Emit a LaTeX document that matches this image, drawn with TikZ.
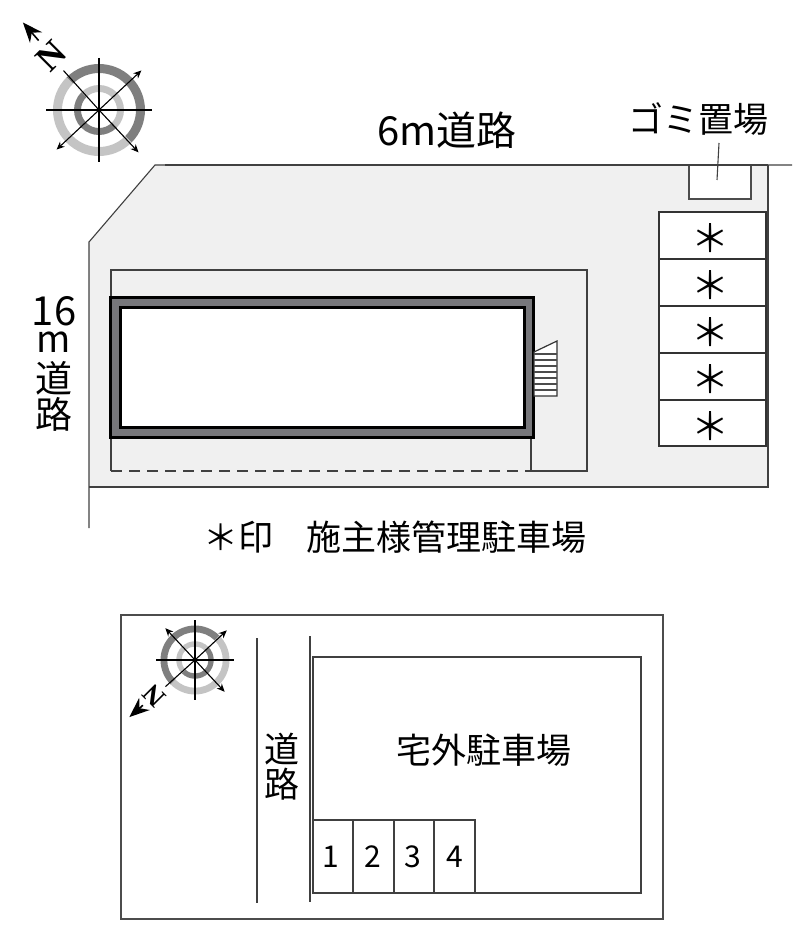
\documentclass[tikz,border=0pt]{standalone}
\usepackage{fontspec}
\setmainfont{Noto Sans CJK JP}
\newfontfamily\northfont{Liberation Serif}
\usetikzlibrary{arrows.meta}
\definecolor{sitegray}{HTML}{F0F0F0}
\definecolor{ringdark}{HTML}{7F7F7F}
\definecolor{ringlight}{HTML}{C4C4C4}
\definecolor{wallgray}{HTML}{77777B}
\tikzset{
  big/.style={font=\fontsize{35}{35}\selectfont,inner sep=0pt},
  num/.style={font=\fontsize{30}{30}\selectfont,inner sep=0pt},
  thinline/.style={draw=black!75,line width=1.1pt},
  boxline/.style={draw=black!70,line width=1.4pt},
  compass/.pic={
    \fill[ringdark] (45:46) arc (45:-135:46) -- (-135:37) arc (-135:45:37) -- cycle;
    \fill[ringlight] (-135:46) arc (-135:-315:46) -- (-315:37) arc (-315:-135:37) -- cycle;
    \fill[ringlight] (45:25) arc (45:-135:25) -- (-135:18) arc (-135:45:18) -- cycle;
    \fill[ringdark] (-135:25) arc (-135:-315:25) -- (-315:18) arc (-315:-135:18) -- cycle;
    \draw[line width=1.1pt] (-53,0) -- (53,0);
    \draw[line width=1.1pt] (0,-52) -- (0,52);
    \draw[line width=1.1pt,-{Stealth[length=8pt,width=7pt]}] (0,0) -- (-43:58);
    \draw[line width=1.1pt,-{Stealth[length=8pt,width=7pt]}] (0,0) -- (-223:58);
    \draw[line width=1.1pt,-{Stealth[length=8pt,width=7pt]}] (0,0) -- (47:58);
    \draw[line width=1.1pt] (0,0) -- (-132:53);
    \fill (0,0) circle (2.5);
    \node[transform shape,rotate=45,font=\northfont\bfseries\fontsize{36}{36}\selectfont,inner sep=0pt] (north) at (-131:72) {N};
    \draw[line width=1.6pt,-{Stealth[length=20pt,width=16pt]}] (-131:92) -- (-131:116);
  }
}
\begin{document}
\begin{tikzpicture}[x=1pt,y=-1pt]
\useasboundingbox (0,0) rectangle (800,941);
% site
\fill[sitegray] (155,165) -- (768,165) -- (768,487) -- (89,487) -- (89,242) -- cycle;
\draw[thinline] (89,528) -- (89,242) -- (155,165) -- (792,165);
\draw[thinline] (89,487) -- (768,487) -- (768,165);
% building
\draw[thinline] (111,471) -- (111,270) -- (587,270) -- (587,471) -- (531,471) -- (531,437);
\draw[thinline,dash pattern=on 11pt off 7pt] (111,471) -- (531,471);
\filldraw[fill=wallgray,draw=black,line width=3pt] (110,297) rectangle (533,437);
\filldraw[fill=white,draw=black,line width=3pt] (120,307) rectangle (524,427);
% stairs
\filldraw[fill=white,draw=black!80,line width=1.2pt] (534,352) -- (557,341) -- (557,396) -- (534,396) -- cycle;
\foreach \y in {354,360,366,372,378,384,390}
  \draw[black!70,line width=1.4pt] (534,\y) -- (557,\y);
% garbage
\filldraw[fill=white,boxline] (689,165) rectangle (751,199);
\draw[thinline] (165,165) -- (768,165);
\node[big] (garbage) at (698,119) {ゴミ置場};
\coordinate (leadtop) at (719,143);
\coordinate (leadend) at (717,180);
\draw[thinline] (leadtop) -- (leadend);
% parking
\foreach \t/\b [count=\i] in {212/259,259/306,306/353,353/400,400/446}{
  \filldraw[fill=white,draw=black!80,line width=1.1pt] (659,\t) rectangle (766,\b);
  \node[font=\fontsize{38}{38}\selectfont,inner sep=0pt] (mark\i) at (710,{(\t+\b)/2+3}) {＊};
}
% labels
\node[inner sep=0pt,font=\fontsize{40}{40}\selectfont] (road6) at (447,130) {6m道路};
\node[inner sep=0pt,align=center,font=\fontsize{37}{36}\selectfont] (road16) at (54,364)
  {{\fontsize{40}{36}\selectfont 16}\\[-9pt] m\\[4pt] 道\\ 路};
\node[big] (note) at (395,537) {＊印\hspace{.95em}施主様管理駐車場};
\pic at (99,110) {compass};
% lower plan
\draw[boxline] (121,615) rectangle (663,919);
\draw[thinline] (257,638) -- (257,903);
\draw[thinline] (310,636) -- (310,902);
\draw[thinline] (313,657) rectangle (641,893);
\foreach \l/\r/\d/\m [count=\i] in {313/353/1/331,353/394/2/373,394/434/3/413,434/475/4/455}{
  \draw[thinline] (\l,820) rectangle (\r,893);
  \node[num] (slot\i) at (\m,857) {\d};
}
\node[big] (outer) at (484,750) {宅外駐車場};
\node[big] (roadE) at (282,749) {道};
\node[big] (roadF) at (282,784) {路};
\pic[scale=.75,rotate=90] at (195,660) {compass};
\end{tikzpicture}
\end{document}
